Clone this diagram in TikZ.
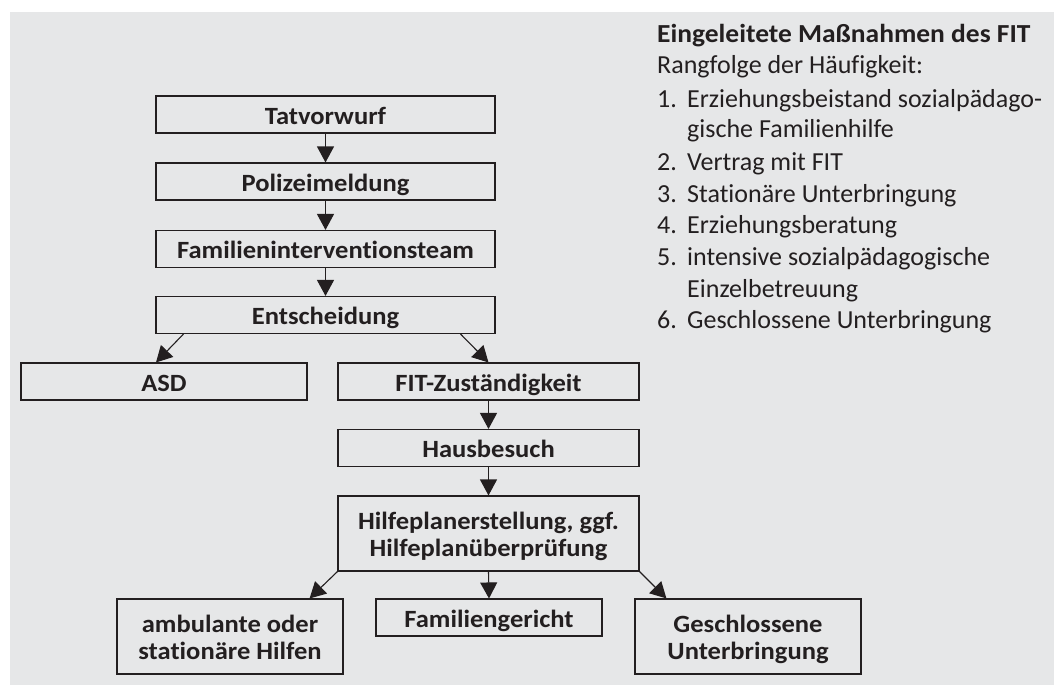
\documentclass[tikz,border=0pt]{standalone}
\usepackage{fontspec}
\setmainfont[Ligatures=NoCommon]{Carlito}
\newfontfamily\boxfont[FakeStretch=1.07,Ligatures=NoCommon]{Carlito}
\newfontfamily\lstfont[Ligatures=NoCommon]{Carlito}
\newfontfamily\titlefont[FakeStretch=1.057,Ligatures=NoCommon]{Carlito}
\newcommand\twolines[2]{\begin{tabular}[b]{@{}c@{}}#1\\#2\end{tabular}}
\usetikzlibrary{arrows.meta,calc}
\definecolor{bg}{HTML}{E6E7E8}
\definecolor{ink}{HTML}{231F20}
\begin{document}
\begin{tikzpicture}[x=1pt,y=-1pt,
 box/.style={draw=ink, line width=1.1pt, inner sep=0pt, font=\boxfont\fontsize{24.8}{26.5}\selectfont\bfseries, text=ink},
 onebox/.style={box, text height=24pt, text depth=5pt, minimum height=37},
 twobox/.style={box, text height=50pt, text depth=5pt, minimum height=75},
 arr/.style={draw=ink, line width=1.1pt, -{Triangle[length=16pt,width=17pt]}},
 lst/.style={anchor=base west, inner sep=0pt, font=\lstfont\fontsize{26}{30}\selectfont, text=ink}]
\useasboundingbox (0,0) rectangle (1054,685);
\fill[white] (0,0) rectangle (1054,685);
\fill[bg] (10,12) rectangle (1054,685);
% flow boxes
\node[onebox, minimum width=339] (tat) at (325.5,114.5) {Tatvorwurf};
\node[onebox, minimum width=339] (pol) at (325.5,181.5) {Polizeimeldung};
\node[onebox, minimum width=339] (fam) at (325.5,249) {Familieninterventionsteam};
\node[onebox, minimum width=339] (ent) at (325.5,315) {Entscheidung};
\node[onebox, minimum width=286] (asd) at (164,381.5) {ASD};
\node[onebox, minimum width=301] (fit) at (488.5,381.5) {FIT-Zuständigkeit};
\node[onebox, minimum width=301] (haus) at (488.5,448) {Hausbesuch};
\node[twobox, minimum width=301] (hilfe) at (488.5,533.5) {\twolines{Hilfeplanerstellung, ggf.}{Hilfeplanüberprüfung}};
\node[twobox, minimum width=226] (amb) at (230,636.5) {\twolines{ambulante oder}{stationäre Hilfen}};
\node[onebox, minimum width=226] (fger) at (489,617.5) {Familiengericht};
\node[twobox, minimum width=226] (geu) at (748,636.5) {\twolines{Geschlossene}{Unterbringung}};
% connectors
\draw[arr] (tat.south) -- (pol.north);
\draw[arr] (pol.south) -- (fam.north);
\draw[arr] (fam.south) -- (ent.north);
\draw[arr] ($(ent.south west)+(28,0)$) -- ($(asd.north)+(-8,0)$);
\draw[arr] ($(ent.south east)+(-35,0)$) -- (fit.north);
\draw[arr] (fit.south) -- (haus.north);
\draw[arr] (haus.south) -- (hilfe.north);
\draw[arr] (hilfe.south west) -- ($(amb.north east)+(-34,0)$);
\draw[arr] (hilfe.south) -- (fger.north);
\draw[arr] (hilfe.south east) -- ($(geu.north west)+(32,0)$);
% list
\node[lst, font=\titlefont\fontsize{26}{30}\selectfont\bfseries] (title) at (657,42) {Eingeleitete Maßnahmen des FIT};
\node[lst] (rang) at (657,74) {Rangfolge der Häufigkeit:};
\node[lst] (n1) at (657,107) {1.};
\node[lst] (t1) at (687,107) {Erziehungsbeistand sozialpädago-};
\node[lst] (t1b) at (687,137) {gische Familienhilfe};
\node[lst] (n2) at (657,170) {2.};
\node[lst] (t2) at (687,170) {Vertrag mit FIT};
\node[lst] (n3) at (657,202) {3.};
\node[lst] (t3) at (687,202) {Stationäre Unterbringung};
\node[lst] (n4) at (657,233) {4.};
\node[lst] (t4) at (687,233) {Erziehungsberatung};
\node[lst] (n5) at (657,265) {5.};
\node[lst] (t5) at (687,265) {intensive sozialpädagogische};
\node[lst] (t5b) at (687,297) {Einzelbetreuung};
\node[lst] (n6) at (657,328) {6.};
\node[lst] (t6) at (687,328) {Geschlossene Unterbringung};
\end{tikzpicture}
\end{document}
